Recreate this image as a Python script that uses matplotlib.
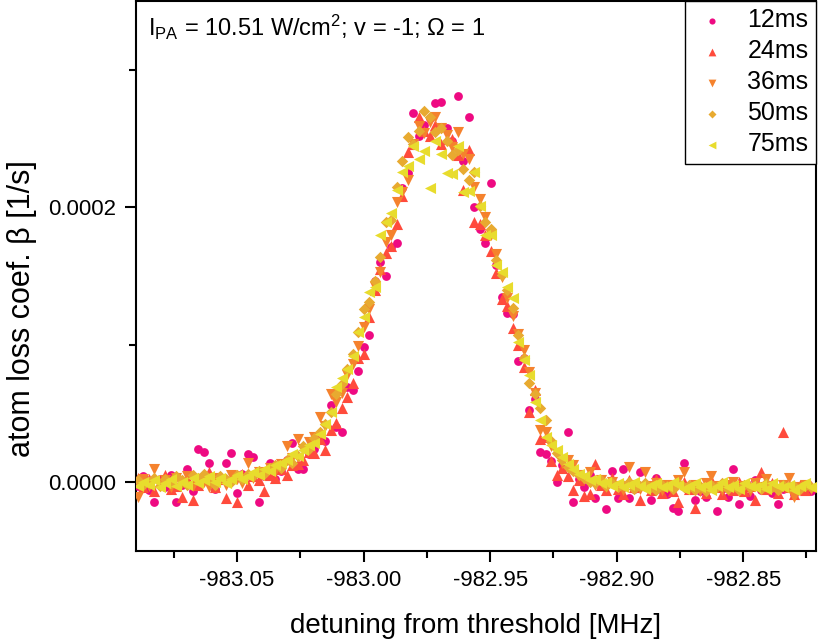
import matplotlib
matplotlib.use("Agg")
import matplotlib.pyplot as plt
from matplotlib.ticker import MultipleLocator, FormatStrFormatter
import numpy as np

plt.rcParams["font.family"] = ["Liberation Sans", "DejaVu Sans"]
plt.rcParams["mathtext.default"] = "regular"

# ---- data: detuning scan [MHz] and loss coefficient in units of 1e-5 1/s ----
detuning = [
    -983.08930, -983.08712, -983.08494, -983.08276, -983.08058, -983.07840, -983.07622, -983.07404,
    -983.07186, -983.06968, -983.06750, -983.06532, -983.06314, -983.06096, -983.05878, -983.05660,
    -983.05442, -983.05224, -983.05006, -983.04788, -983.04570, -983.04352, -983.04134, -983.03916,
    -983.03698, -983.03480, -983.03262, -983.03044, -983.02826, -983.02608, -983.02390, -983.02172,
    -983.01954, -983.01736, -983.01518, -983.01300, -983.01082, -983.00864, -983.00646, -983.00428,
    -983.00210, -982.99992, -982.99774, -982.99556, -982.99338, -982.99120, -982.98902, -982.98684,
    -982.98466, -982.98248, -982.98030, -982.97812, -982.97594, -982.97376, -982.97158, -982.96940,
    -982.96722, -982.96504, -982.96286, -982.96068, -982.95850, -982.95632, -982.95414, -982.95196,
    -982.94978, -982.94760, -982.94542, -982.94324, -982.94106, -982.93888, -982.93670, -982.93452,
    -982.93234, -982.93016, -982.92798, -982.92580, -982.92362, -982.92144, -982.91926, -982.91708,
    -982.91490, -982.91272, -982.91054, -982.90836, -982.90618, -982.90400, -982.90182, -982.89964,
    -982.89746, -982.89528, -982.89310, -982.89092, -982.88874, -982.88656, -982.88438, -982.88220,
    -982.88002, -982.87784, -982.87566, -982.87348, -982.87130, -982.86912, -982.86694, -982.86476,
    -982.86258, -982.86040, -982.85822, -982.85604, -982.85386, -982.85168, -982.84950, -982.84732,
    -982.84514, -982.84296, -982.84078, -982.83860, -982.83642, -982.83424, -982.83206, -982.82988,
    -982.82770, -982.82552, -982.82334,
]

beta_12ms = [
    -0.3, 0.4, -0.6, -1.5, 0.2, -0.4, 0.5, -1.5, -0.2, 0.9,
    -0.7, 2.4, 2.2, 1.4, -0.5, 0.3, 1.4, 2.1, -0.8, 0.6,
    2.0, 1.8, -1.5, 0.4, 1.4, 0.2, 0.8, 1.6, 2.8, 0.9,
    0.9, 2.0, 2.4, 3.3, 3.0, 5.6, 4.0, 3.6, 6.9, 6.7,
    8.1, 9.8, 10.7, 14.6, 16.0, 15.0, 17.1, 17.4, 21.4, 22.5,
    26.9, 25.2, 26.0, 26.5, 27.6, 27.7, 25.8, 24.8, 28.1, 23.4,
    26.6, 20.0, 18.4, 17.4, 21.8, 15.8, 13.5, 12.3, 12.2, 8.8,
    9.0, 5.2, 6.0, 2.2, 2.0, 1.5, 0.0, 1.2, 3.6, -1.5,
    0.2, -0.4, 0.5, -1.2, -0.3, -2.0, 0.8, -1.2, 0.9, -1.2,
    -0.5, 0.7, -0.2, -1.3, 0.3, -0.6, -0.9, -1.9, -2.1, 1.4,
    -0.4, -1.3, -0.7, -1.1, -0.3, -2.1, -0.5, -1.1, 0.9, -1.6,
    -0.4, -1.0, 0.15, -0.6, -0.2, -0.8, -1.6, -0.5, -0.3, -0.9,
    -0.6, -0.2, -0.7,
]

beta_24ms = [
    0.3, -0.4, 0.2, -0.7, 0.0, 0.5, -0.5, -0.3, -1.1, 0.3,
    -1.3, -0.2, 0.4, 0.7, -0.4, 0.2, -1.2, 0.3, -1.5, 0.6,
    -0.2, 0.4, 0.1, -0.7, 0.5, 0.3, 0.9, 0.5, 1.2, 1.3,
    1.6, 2.2, 2.1, 3.1, 2.3, 3.8, 4.3, 5.4, 6.2, 7.2,
    9.0, 9.3, 12.0, 14.0, 15.5, 16.7, 17.2, 18.8, 20.8, 24.0,
    24.6, 26.6, 25.6, 25.2, 26.0, 24.6, 25.0, 25.0, 23.8, 21.3,
    24.2, 18.9, 18.8, 18.0, 16.8, 15.2, 13.3, 12.8, 11.2, 10.0,
    8.4, 5.1, 6.7, 3.1, 3.3, 1.5, 0.5, 1.0, 0.4, -0.6,
    0.1, -1.0, -0.9, 1.3, -0.2, -0.6, 0.3, -0.5, -0.9, 0.1,
    -0.4, -1.3, -0.2, -0.6, 0.2, -0.8, -0.3, -0.7, -1.5, 0.0,
    -0.5, -1.9, -0.3, -0.8, 0.1, -0.4, -0.9, -0.2, -0.6, 0.0,
    -0.7, -0.3, -1.3, 0.7, -0.5, -0.1, -0.8, 3.6, -0.4, -0.9,
    -0.2, -0.6, -0.3,
]

beta_36ms = [
    -1.1, 0.2, -0.3, 0.9, -0.2, 0.1, -0.4, 0.3, -0.1, 0.4,
    -0.3, 0.2, 0.0, -0.4, 0.3, 0.1, -0.2, 0.5, 0.2, -0.1,
    1.4, 0.3, 0.7, 0.5, 1.0, 0.8, 1.3, 2.6, 1.7, 3.1,
    2.4, 2.9, 3.3, 4.7, 4.1, 6.4, 5.8, 6.5, 7.8, 8.6,
    9.9, 11.3, 12.6, 14.2, 15.3, 17.5, 18.0, 20.4, 21.1, 22.0,
    24.6, 25.9, 25.4, 26.2, 26.6, 25.8, 25.3, 24.4, 25.5, 23.9,
    23.5, 21.5, 20.6, 19.3, 18.0, 16.6, 14.9, 13.4, 12.1, 10.8,
    9.6, 8.0, 6.5, 3.8, 3.6, 2.6, 2.1, 1.4, 1.6, 1.2,
    0.5, 0.2, 0.7, -0.2, 0.1, -0.4, 0.0, -0.3, -0.6, 1.1,
    -0.2, -0.5, 0.7, -0.3, -0.1, -0.6, -0.2, -0.4, 0.1, 0.7,
    -0.5, -0.2, -0.7, -0.1, 0.4, -0.3, -0.6, -0.2, 0.0, -0.5,
    -0.3, -0.7, -0.1, -0.4, 0.2, -0.3, -0.6, -0.2, 0.3, -1.1,
    -0.4, -0.2, -0.5,
]

beta_50ms = [
    0.1, -0.2, 0.0, 0.3, -0.3, 0.2, -0.1, 0.4, 0.1, -0.2,
    0.5, 0.3, 0.6, 0.1, -0.2, 0.4, 0.2, 0.0, 0.5, 0.2,
    0.6, 0.4, 0.8, 0.6, 1.0, 1.2, 1.0, 1.6, 1.4, 1.9,
    2.6, 2.4, 3.2, 3.6, 4.2, 5.1, 6.4, 7.1, 8.2, 9.3,
    10.9, 12.6, 13.1, 14.6, 16.4, 18.9, 19.1, 21.5, 23.4, 25.1,
    24.6, 25.6, 27.0, 26.6, 25.5, 25.8, 24.8, 23.8, 24.2, 22.8,
    22.0, 22.6, 20.1, 18.9, 18.4, 16.2, 15.1, 14.0, 12.7, 10.7,
    9.0, 7.2, 6.4, 5.4, 4.5, 3.0, 2.1, 1.6, 1.1, 0.8,
    0.5, 0.3, 0.0, -0.1, 0.1, -0.3, -0.1, -0.4, -0.2, 0.0,
    -0.5, -0.3, -0.1, -0.4, -0.6, -0.2, -0.3, -0.5, -0.1, -0.4,
    -0.2, -0.6, -0.3, -0.7, -0.2, -0.4, -0.1, -0.5, -0.3, -0.6,
    -0.2, -0.4, -0.3, -0.5, -0.1, -0.4, -0.6, -0.2, -0.4, -0.3,
    -0.5, -0.3, -0.4,
]

beta_75ms = [
    -0.3, 0.0, -0.2, 0.1, -0.4, -0.1, 0.2, -0.3, 0.0, -0.2,
    0.3, -0.1, 0.1, 0.4, 0.0, 0.3, -0.1, 0.2, 0.5, 0.2,
    0.4, 0.7, 0.5, 0.9, 0.8, 1.2, 1.4, 1.6, 2.0, 1.9,
    2.3, 2.7, 2.8, 3.5, 4.2, 5.1, 6.9, 7.6, 8.2, 9.2,
    10.9, 12.0, 13.8, 14.2, 18.0, 18.9, 19.6, 21.3, 22.6, 23.0,
    24.5, 23.5, 24.1, 21.4, 24.8, 23.9, 22.5, 22.4, 24.5, 21.1,
    21.2, 22.6, 20.1, 18.0, 18.0, 15.8, 15.3, 14.2, 13.4, 10.2,
    8.9, 7.8, 5.8, 4.5, 3.3, 2.7, 2.3, 1.8, 1.3, 0.9,
    0.6, 0.4, 0.1, 0.2, -0.1, 0.0, -0.3, -0.1, -0.4, -0.2,
    0.0, -0.3, -0.5, -0.2, -0.1, -0.4, -0.3, 0.0, -0.2, -0.5,
    -0.3, -0.1, -0.4, -0.2, -0.6, -0.3, 0.0, -0.4, -0.2, -0.5,
    -0.1, -0.3, -0.4, -0.2, -0.5, -0.1, -0.3, -0.4, -0.2, -0.6,
    -0.3, -0.1, -0.4,
]

series_labels = ["12ms", "24ms", "36ms", "50ms", "75ms"]
series_values = [beta_12ms, beta_24ms, beta_36ms, beta_50ms, beta_75ms]

COLORS = ["#ee0a82", "#ff4b3c", "#f5822d", "#e8aa30", "#e8dc2d"]
MARKERS = ["o", "^", "v", "D", "<"]
SIZES = [40, 64, 64, 34, 64]

fig = plt.figure(figsize=(8.18, 6.43), dpi=100)
ax = fig.add_axes([0.1663, 0.1431, 0.8313, 0.8554])

x = np.array(detuning)
for lab, vals, col, mk, sz in zip(series_labels, series_values, COLORS, MARKERS, SIZES):
    ax.scatter(x, np.array(vals) * 1e-5, s=sz, marker=mk, color=col,
               linewidths=0, label=lab, zorder=3)

ax.set_xlim(-983.0899, -982.8212)
ax.set_ylim(-0.0000504, 0.0003504)

ax.xaxis.set_major_locator(MultipleLocator(0.05))
ax.xaxis.set_minor_locator(MultipleLocator(0.025))
ax.xaxis.set_major_formatter(FormatStrFormatter("%.2f"))
ax.yaxis.set_major_locator(MultipleLocator(0.0002))
ax.yaxis.set_minor_locator(MultipleLocator(0.0001))
ax.yaxis.set_major_formatter(FormatStrFormatter("%.4f"))

ax.tick_params(which="major", direction="out", length=8, width=1.5, labelsize=16, pad=6)
ax.tick_params(which="minor", direction="out", length=5, width=1.5)
ax.tick_params(top=False, right=False)
for sp in ax.spines.values():
    sp.set_linewidth(1.5)

ax.set_xlabel("detuning from threshold [MHz]", fontsize=20)
ax.set_ylabel("atom loss coef. β [1/s]", fontsize=22)
ax.xaxis.set_label_coords(0.5, -0.112)
ax.yaxis.set_label_coords(-0.145, 0.44)

ax.text(0.018, 0.978, r"I$_{PA}$ = 10.51 W/cm$^{2}$; v = -1; Ω = 1",
        transform=ax.transAxes, fontsize=17, va="top", ha="left")

leg = ax.legend(loc="upper right", fontsize=18, frameon=True, fancybox=False,
                framealpha=1, edgecolor="black", borderaxespad=0,
                handletextpad=0.6, labelspacing=0.28, markerscale=0.7,
                borderpad=0.3, handlelength=1.6)
leg.get_frame().set_linewidth(1.0)

fig.savefig("out.png", dpi=100)
